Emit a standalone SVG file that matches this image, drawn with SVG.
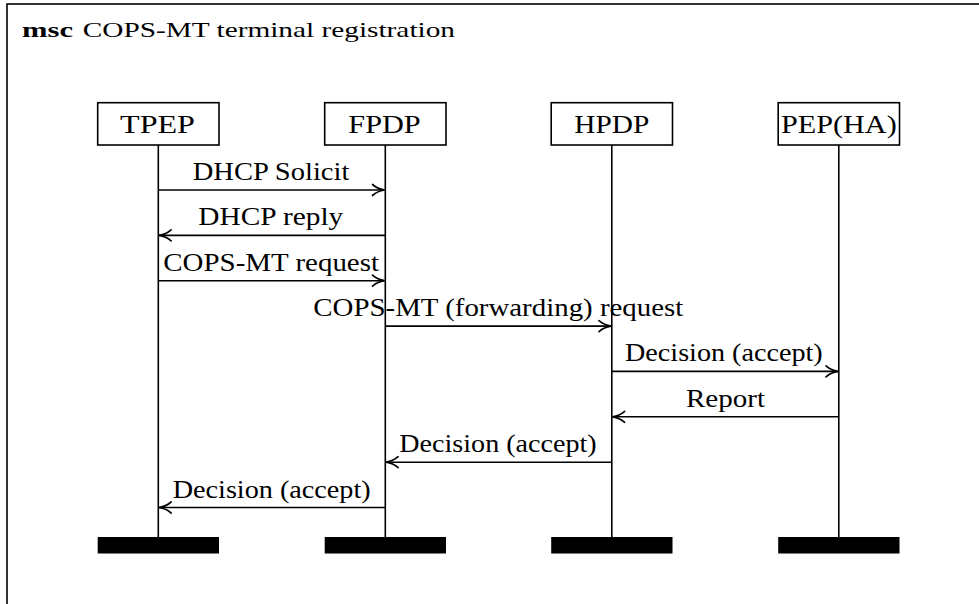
<svg xmlns="http://www.w3.org/2000/svg" width="979" height="604" viewBox="0 0 979 604">
  <style>
    .frame { fill: none; stroke: #000; stroke-width: 1.6; }
    .box { fill: #fff; stroke: #000; stroke-width: 1.6; }
    .life { stroke: #000; stroke-width: 1.6; fill: none; }
    .bar { fill: #000; }
    .msg { stroke: #000; stroke-width: 1.6; fill: none; marker-end: url(#to); }
    .t { font-family: "Liberation Serif", "Times New Roman", serif; fill: #000; }
    .title { font-size: 22px; }
    .name { font-size: 26px; }
    .lbl { font-size: 25px; }
  </style>
  <defs>
    <!-- curved open arrowhead -->
    <marker id="to" viewBox="-14 -8 16 16" refX="0" refY="0" markerWidth="16" markerHeight="16" markerUnits="userSpaceOnUse" orient="auto">
      <path d="M -12 -5.5 C -8 -2 -3.5 -0.5 0 0 C -3.5 0.5 -8 2 -12 5.5" fill="none" stroke="#000" stroke-width="1.7" stroke-linecap="round"/>
    </marker>
  </defs>

  <rect width="979" height="604" fill="#fff"/>

  <!-- enclosing msc frame (extends past the right and bottom edges) -->
  <rect class="frame" x="7" y="4" width="1000" height="700"/>
  <text class="t title" x="22" y="36.5" font-weight="bold" textLength="51" lengthAdjust="spacingAndGlyphs">msc</text>
  <text class="t title" x="82.7" y="36.5" textLength="372.3" lengthAdjust="spacingAndGlyphs">COPS-MT terminal registration</text>

  <!-- instances -->
  <g id="tpep">
    <line class="life" x1="158.3" y1="145" x2="158.3" y2="537"/>
    <rect class="box" x="97.7" y="102.7" width="121.3" height="42.3"/>
    <text class="t name" x="120" y="132.7" textLength="75" lengthAdjust="spacingAndGlyphs">TPEP</text>
    <rect class="bar" x="97.7" y="537" width="121.3" height="16.5"/>
  </g>
  <g id="fpdp">
    <line class="life" x1="385.3" y1="145" x2="385.3" y2="537"/>
    <rect class="box" x="324.7" y="102.7" width="121.3" height="42.3"/>
    <text class="t name" x="348.3" y="132.7" textLength="72.4" lengthAdjust="spacingAndGlyphs">FPDP</text>
    <rect class="bar" x="324.7" y="537" width="121.3" height="16.5"/>
  </g>
  <g id="hpdp">
    <line class="life" x1="611.8" y1="145" x2="611.8" y2="537"/>
    <rect class="box" x="551.2" y="102.7" width="121.3" height="42.3"/>
    <text class="t name" x="574.3" y="132.7" textLength="75" lengthAdjust="spacingAndGlyphs">HPDP</text>
    <rect class="bar" x="551.2" y="537" width="121.3" height="16.5"/>
  </g>
  <g id="pep-ha">
    <line class="life" x1="838.8" y1="145" x2="838.8" y2="537"/>
    <rect class="box" x="778.2" y="102.7" width="121.3" height="42.3"/>
    <text class="t name" x="781" y="132.7" textLength="115.7" lengthAdjust="spacingAndGlyphs">PEP(HA)</text>
    <rect class="bar" x="778.2" y="537" width="121.3" height="16.5"/>
  </g>

  <!-- messages -->
  <g id="connectors">
    <line class="msg" x1="158.3" y1="190" x2="384.5" y2="190"/>
    <text class="t lbl" x="192.7" y="180" textLength="156.7" lengthAdjust="spacingAndGlyphs">DHCP Solicit</text>

    <line class="msg" x1="385.3" y1="235.4" x2="159.1" y2="235.4"/>
    <text class="t lbl" x="198.3" y="225.4" textLength="145" lengthAdjust="spacingAndGlyphs">DHCP reply</text>

    <line class="msg" x1="158.3" y1="280.7" x2="384.5" y2="280.7"/>
    <text class="t lbl" x="163.3" y="270.7" textLength="215.7" lengthAdjust="spacingAndGlyphs">COPS-MT request</text>

    <line class="msg" x1="385.3" y1="326.1" x2="611" y2="326.1"/>
    <text class="t lbl" x="313.3" y="316.1" textLength="370" lengthAdjust="spacingAndGlyphs">COPS-MT (forwarding) request</text>

    <line class="msg" x1="611.8" y1="371.4" x2="838" y2="371.4"/>
    <text class="t lbl" x="625" y="361.4" textLength="197.7" lengthAdjust="spacingAndGlyphs">Decision (accept)</text>

    <line class="msg" x1="838.8" y1="416.8" x2="612.6" y2="416.8"/>
    <text class="t lbl" x="686" y="406.8" textLength="79" lengthAdjust="spacingAndGlyphs">Report</text>

    <line class="msg" x1="611.8" y1="462.2" x2="386.1" y2="462.2"/>
    <text class="t lbl" x="399.3" y="452.2" textLength="197.4" lengthAdjust="spacingAndGlyphs">Decision (accept)</text>

    <line class="msg" x1="385.3" y1="507.5" x2="159.1" y2="507.5"/>
    <text class="t lbl" x="172.7" y="497.5" textLength="198" lengthAdjust="spacingAndGlyphs">Decision (accept)</text>
  </g>
</svg>
